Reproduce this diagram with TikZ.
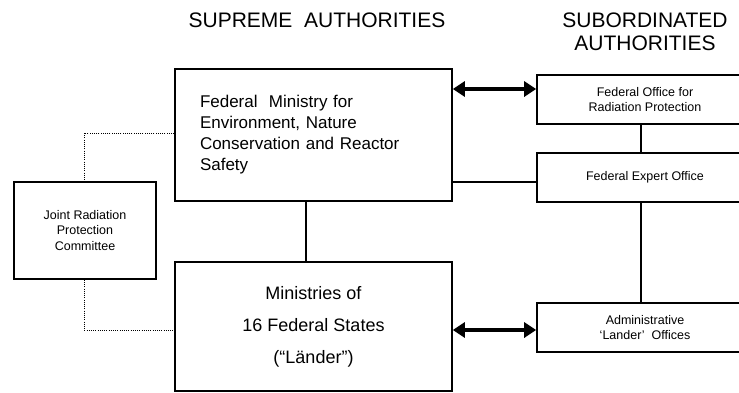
\documentclass[tikz,border=0pt]{standalone}
\usepackage{fontspec}
\setmainfont{Liberation Sans}
\usetikzlibrary{arrows.meta}
\begin{document}
\begin{tikzpicture}[x=1pt,y=-1pt,
 box/.style={draw=black,line width=1.6pt,rectangle,inner sep=0pt},
 conn/.style={line width=1.6pt},
 dots/.style={line width=0.9pt,dash pattern=on 1pt off 1.2pt},
 dblarrow/.style={line width=3.2pt,{Triangle[length=12pt,width=15pt]}-{Triangle[length=12pt,width=15pt]}},
 title/.style={font=\fontsize{21}{23}\selectfont,align=center,inner sep=0pt},
 small/.style={font=\fontsize{12.5}{15.5}\selectfont,align=center},
 big/.style={font=\fontsize{17}{21}\selectfont},
 land/.style={font=\fontsize{18}{32}\selectfont,align=center}]
\useasboundingbox (0,0) rectangle (739,392);
\fill[white] (0,0) rectangle (739,392);
\clip (0,0) rectangle (739,392);

\node[title] (t1) at (317,20) {SUPREME\ \ AUTHORITIES};
\node[title] (t2) at (645,31.5) {SUBORDINATED\\AUTHORITIES};

\node[box,big,minimum width=277pt,minimum height=132pt,text width=227pt,align=left] (min) at (313.5,135)
 {Federal\ \ Ministry for\\Environment, Nature\\Conservation and Reactor\\Safety};
\node[box,land,minimum width=277pt,minimum height=129pt] (lae) at (313.5,326.5)
 {Ministries of\\16 Federal States\\(“Länder”)};
\node[box,small,minimum width=142pt,minimum height=97pt] (joint) at (85,230.5)
 {Joint Radiation\\Protection\\Committee};
\node[box,small,minimum width=216pt,minimum height=49pt] (off) at (645,99.5)
 {Federal Office for\\Radiation Protection};
\node[box,small,minimum width=216pt,minimum height=49pt] (exp) at (645,177.5)
 {Federal Expert Office};
\node[box,small,minimum width=216pt,minimum height=49pt] (adm) at (645,327.5)
 {Administrative\\`Lander'\ \ Offices};

\coordinate (a1) at ([yshift=10.5pt]off.west);
\draw[dblarrow] (a1 -| min.east) -- (a1);
\coordinate (a2) at ([yshift=-2.5pt]adm.west);
\draw[dblarrow] (a2 -| lae.east) -- (a2);
\coordinate (c1) at ([yshift=-4.5pt]exp.west);
\draw[conn] (c1 -| min.east) -- (c1);
\draw[conn] ([xshift=-4pt]off.south) -- ([xshift=-4pt]exp.north);
\draw[conn] ([xshift=-4pt]exp.south) -- ([xshift=-4pt]adm.north);
\draw[conn] ([xshift=-7.5pt]min.south) -- ([xshift=-7.5pt]lae.north);
\draw[dots] ([yshift=2pt]min.west) -| ([xshift=-1pt]joint.north);
\draw[dots] ([xshift=-1pt]joint.south) |- ([yshift=-3.5pt]lae.west);
\end{tikzpicture}
\end{document}
